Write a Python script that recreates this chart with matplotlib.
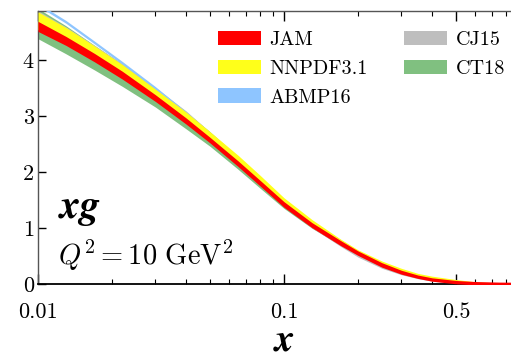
import numpy as np
import matplotlib
matplotlib.use('Agg')
import matplotlib.pyplot as plt
from matplotlib.patches import Patch
from matplotlib.ticker import FixedLocator, NullFormatter

plt.rcParams['font.family'] = 'serif'
plt.rcParams['font.serif'] = ['cmr10']
plt.rcParams['mathtext.fontset'] = 'cm'
plt.rcParams['axes.formatter.use_mathtext'] = True

# x grid shared by all sets (Q^2 = 10 GeV^2)
x = [0.01, 0.013, 0.017, 0.022, 0.03, 0.04, 0.05, 0.065, 0.08, 0.1,
     0.13, 0.17, 0.2, 0.25, 0.3, 0.35, 0.4, 0.5, 0.6, 0.75, 1.0]

jam_c = [4.60, 4.34, 4.04, 3.73, 3.32, 2.91, 2.57, 2.15, 1.80, 1.42,
         1.05, 0.73, 0.55, 0.34, 0.21, 0.13, 0.08, 0.033, 0.014, 0.004, 0.0]
jam_e = [0.09, 0.08, 0.075, 0.07, 0.06, 0.055, 0.05, 0.05, 0.05, 0.05,
         0.045, 0.045, 0.04, 0.04, 0.035, 0.03, 0.03, 0.03, 0.03, 0.03, 0.03]

nnpdf_c = [4.70, 4.44, 4.13, 3.81, 3.38, 2.98, 2.64, 2.22, 1.87, 1.48,
           1.10, 0.76, 0.57, 0.37, 0.245, 0.16, 0.11, 0.055, 0.025, 0.008, 0.0]
nnpdf_e = [0.16, 0.14, 0.12, 0.11, 0.10, 0.09, 0.08, 0.08, 0.07, 0.06,
           0.05, 0.04, 0.04, 0.04, 0.035, 0.03, 0.03, 0.025, 0.015, 0.008, 0.0]

abmp_c = [4.99, 4.68, 4.31, 3.95, 3.50, 3.05, 2.68, 2.24, 1.88, 1.48,
          1.09, 0.75, 0.56, 0.35, 0.22, 0.14, 0.09, 0.04, 0.018, 0.005, 0.0]
abmp_e = [0.025, 0.025, 0.025, 0.025, 0.025, 0.025, 0.02, 0.02, 0.02, 0.02,
          0.02, 0.015, 0.015, 0.015, 0.01, 0.01, 0.01, 0.01, 0.005, 0.003, 0.0]

cj15_c = [4.78, 4.50, 4.18, 3.86, 3.44, 3.03, 2.66, 2.21, 1.84, 1.44,
          1.04, 0.70, 0.51, 0.31, 0.19, 0.115, 0.07, 0.03, 0.012, 0.003, 0.0]
cj15_e = [0.10, 0.09, 0.08, 0.075, 0.07, 0.06, 0.055, 0.05, 0.045, 0.04,
          0.035, 0.03, 0.03, 0.03, 0.025, 0.02, 0.02, 0.015, 0.01, 0.003, 0.0]

ct18_c = [4.65, 4.36, 4.04, 3.73, 3.33, 2.92, 2.59, 2.16, 1.81, 1.43,
          1.06, 0.74, 0.55, 0.345, 0.215, 0.135, 0.085, 0.038, 0.018, 0.005, 0.0]
ct18_e = [0.27, 0.25, 0.22, 0.20, 0.17, 0.15, 0.13, 0.11, 0.10, 0.08,
          0.065, 0.05, 0.045, 0.04, 0.03, 0.025, 0.02, 0.015, 0.01, 0.005, 0.0]

sets = [
    ('CT18', ct18_c, ct18_e, '#80c080'),
    ('CJ15', cj15_c, cj15_e, '#bebebe'),
    ('ABMP16', abmp_c, abmp_e, '#8ec5ff'),
    ('NNPDF3.1', nnpdf_c, nnpdf_e, '#ffff1a'),
    ('JAM', jam_c, jam_e, '#ff0000'),
]

fig = plt.figure(figsize=(5.11, 3.58), dpi=100)
ax = fig.add_axes([38 / 511, 74 / 358, 492 / 511, 273 / 358])

colors = {}
for i, (name, c, e, col) in enumerate(sets):
    c = np.array(c)
    e = np.array(e)
    ax.fill_between(x, c - e, c + e, color=col, lw=0, zorder=i + 1)
    colors[name] = col

ax.set_xscale('log')
ax.set_xlim(0.01, 1.0)
ax.set_ylim(0, 4.875)

ax.xaxis.set_major_locator(FixedLocator([0.01, 0.1, 0.5]))
ax.xaxis.set_minor_locator(FixedLocator([0.02, 0.03, 0.04, 0.05, 0.06, 0.07, 0.08, 0.09,
                                         0.2, 0.3, 0.4, 0.6, 0.7, 0.8, 0.9]))
ax.xaxis.set_minor_formatter(NullFormatter())
ax.set_xticklabels(['0.01', '0.1', '0.5'])
ax.set_yticks([0, 1, 2, 3, 4])
ax.set_yticklabels(['0', '1', '2', '3', '4'])

ax.tick_params(axis='both', which='both', direction='in', top=True, right=False)
ax.tick_params(axis='x', which='major', length=7, width=1, labelsize=16, pad=13)
ax.tick_params(axis='x', which='minor', length=3.5, width=0.8)
ax.tick_params(axis='y', which='major', length=6, width=1, labelsize=16, pad=3)

for side in ['left', 'top']:
    ax.spines[side].set_color('#555555')
    ax.spines[side].set_linewidth(1.0)
ax.spines['bottom'].set_linewidth(1.3)
ax.spines['right'].set_visible(False)

ax.set_xlabel(r'$\boldsymbol{x}$', fontsize=28, labelpad=1)

ax.text(0.041, 0.24, r'$\boldsymbol{xg}$', transform=ax.transAxes, fontsize=29)
ax.text(0.041, 0.07, r'$Q^2 = 10\ \mathrm{GeV}^2$', transform=ax.transAxes, fontsize=20.5)

order = ['JAM', 'NNPDF3.1', 'ABMP16', 'CJ15', 'CT18']
handles = [Patch(facecolor=colors[n], edgecolor='none', label=n) for n in order]
ax.legend(handles=handles, ncol=2, frameon=False, fontsize=14.5,
          loc='upper left', bbox_to_anchor=(0.35, 0.955),
          handlelength=2.1, handleheight=0.7, handletextpad=0.45,
          labelspacing=0.52, columnspacing=1.8, borderaxespad=0)

fig.savefig('out.png', dpi=100)
